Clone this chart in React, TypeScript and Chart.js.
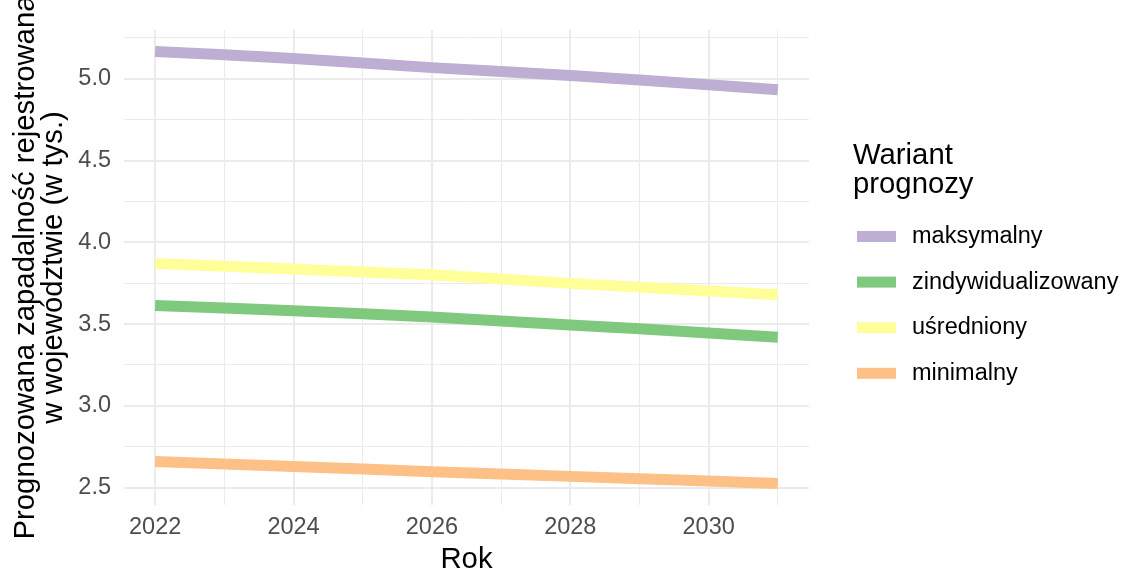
import React, { useEffect, useRef } from "react";
import { Chart, registerables } from "chart.js";

Chart.register(...registerables);

// ---- data ----
const years = [2022, 2023, 2024, 2025, 2026, 2027, 2028, 2029, 2030, 2031];
const seriesNames = ["maksymalny", "zindywidualizowany", "uśredniony", "minimalny"];
const maksymalny = [5.166, 5.146, 5.124, 5.096, 5.068, 5.044, 5.02, 4.992, 4.963, 4.933];
const zindywidualizowany = [3.614, 3.598, 3.582, 3.563, 3.543, 3.519, 3.495, 3.471, 3.445, 3.419];
const usredniony = [3.871, 3.854, 3.837, 3.819, 3.801, 3.775, 3.749, 3.726, 3.703, 3.68];
const minimalny = [2.66, 2.645, 2.629, 2.614, 2.598, 2.584, 2.569, 2.555, 2.54, 2.526];
const seriesColors = ["#BEAED4", "#7FC97F", "#FFFF99", "#FDC086"];
const xTickLabels = ["2022", "2024", "2026", "2028", "2030"];
const yTickLabels = ["2.5", "3.0", "3.5", "4.0", "4.5", "5.0"];

const xAxisTitle = "Rok";
const yAxisTitle = ["Prognozowana zapadalność rejestrowana", "w województwie (w tys.)"];
const legendTitle = ["Wariant", "prognozy"];

const FONT = "'Liberation Sans', Arial, Helvetica, sans-serif";

export default function App() {
  const canvasRef = useRef<HTMLCanvasElement | null>(null);

  useEffect(() => {
    const canvas = canvasRef.current;
    if (!canvas) return;
    const allSeries = [maksymalny, zindywidualizowany, usredniony, minimalny];
    const allVals = allSeries.flat();
    const dMin = Math.min(...allVals);
    const dMax = Math.max(...allVals);
    const yPad = (dMax - dMin) * 0.05;
    const xPad = (years[years.length - 1] - years[0]) * 0.05;

    const legendPlugin = {
      id: "ggLegend",
      afterDraw(chart: any) {
        const ctx = chart.ctx;
        ctx.save();
        ctx.fillStyle = "#000000";
        ctx.font = `29.3px ${FONT}`;
        ctx.textAlign = "left";
        ctx.textBaseline = "alphabetic";
        legendTitle.forEach((t, i) => ctx.fillText(t, 853, 164 + i * 29));
        ctx.font = `23.5px ${FONT}`;
        ctx.textBaseline = "middle";
        chart.data.datasets.forEach((ds: any, i: number) => {
          const cy = 236.5 + i * 45.6;
          ctx.fillStyle = ds.borderColor;
          ctx.fillRect(857, cy - 5.5, 39, 11);
          ctx.fillStyle = "#000000";
          ctx.fillText(ds.label, 912, cy);
        });
        ctx.restore();
      },
    };

    const chart = new Chart(canvas, {
      type: "line",
      data: {
        datasets: allSeries.map((vals, i) => ({
          label: seriesNames[i],
          data: years.map((yr, j) => ({ x: yr, y: vals[j] })),
          borderColor: seriesColors[i],
          backgroundColor: seriesColors[i],
          borderWidth: 11,
          pointRadius: 0,
          pointHoverRadius: 0,
          tension: 0,
          fill: false,
          borderCapStyle: "butt",
          borderJoinStyle: "round",
        })),
      },
      options: {
        responsive: false,
        maintainAspectRatio: false,
        animation: false,
        events: [],
        layout: { padding: { left: 0, top: 30, right: 317, bottom: 0 } },
        plugins: {
          legend: { display: false },
          tooltip: { enabled: false },
          title: { display: false },
        },
        scales: {
          x: {
            type: "linear",
            min: years[0] - xPad,
            max: years[years.length - 1] + xPad,
            border: { display: false },
            grid: {
              color: "#EBEBEB",
              drawTicks: false,
              lineWidth: (c: any) => (c.tick && Math.round(c.tick.value) % 2 === 0 ? 2 : 1),
            },
            ticks: {
              stepSize: 1,
              includeBounds: false,
              autoSkip: false,
              maxRotation: 0,
              padding: 8,
              color: "#4D4D4D",
              font: { family: FONT, size: 23.5 },
              callback: (v: any) => {
                const s = String(Math.round(Number(v)));
                return xTickLabels.includes(s) ? s : "";
              },
            },
            title: {
              display: true,
              text: xAxisTitle,
              color: "#000000",
              font: { family: FONT, size: 29.3, lineHeight: 0.956 },
              padding: { top: 0, bottom: 1 },
            },
            afterFit: (s: any) => {
              s.height = 70;
            },
          },
          y: {
            type: "linear",
            min: dMin - yPad,
            max: dMax + yPad,
            border: { display: false },
            grid: {
              color: "#EBEBEB",
              drawTicks: false,
              lineWidth: (c: any) => {
                if (!c.tick) return 1;
                const v = c.tick.value * 2;
                return Math.abs(v - Math.round(v)) < 1e-6 ? 2 : 1;
              },
            },
            ticks: {
              stepSize: 0.25,
              includeBounds: false,
              autoSkip: false,
              padding: 13,
              color: "#4D4D4D",
              font: { family: FONT, size: 23.5 },
              callback: (v: any) => {
                const s = Number(v).toFixed(1);
                const isMajor = Math.abs(Number(v) * 2 - Math.round(Number(v) * 2)) < 1e-6;
                return isMajor && yTickLabels.includes(s) ? s : "";
              },
            },
            title: {
              display: true,
              text: yAxisTitle,
              color: "#000000",
              font: { family: FONT, size: 29.3, lineHeight: 0.956 },
              padding: { top: 11.5, bottom: 0 },
            },
            afterFit: (s: any) => {
              s.width = 124;
            },
          },
        },
      },
      plugins: [legendPlugin],
    } as any);

    return () => chart.destroy();
  }, []);

  return (
    <div style={{ position: "fixed", left: 0, top: 0, width: 1126, height: 575, background: "#FFFFFF" }}>
      <canvas ref={canvasRef} width={1126} height={575} style={{ display: "block" }} />
    </div>
  );
}
